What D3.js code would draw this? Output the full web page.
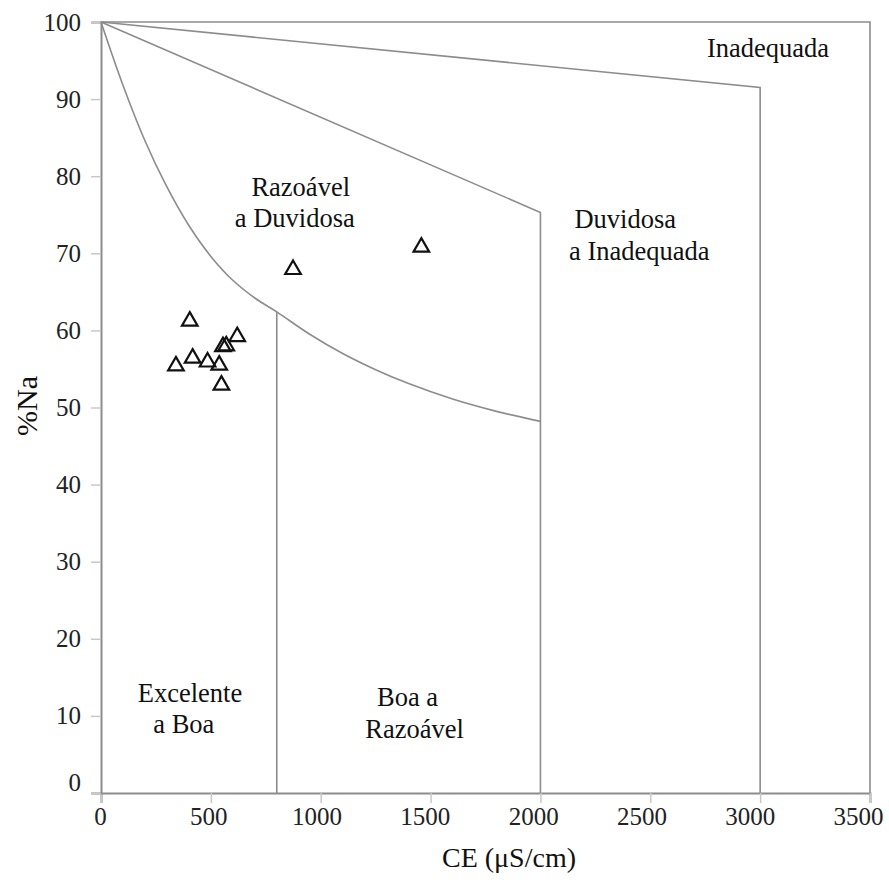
<!DOCTYPE html>
<html>
<head>
<meta charset="utf-8">
<script src="https://cdn.jsdelivr.net/npm/d3@7"></script>
<style>
  html, body { margin: 0; padding: 0; background: #fff; }
  svg { display: block; }
  text { font-family: "Liberation Serif", "Times New Roman", serif; }
</style>
</head>
<body>
<svg id="chart" width="889" height="882"></svg>
<script>
// ---- data ----
const xTicks = [0, 500, 1000, 1500, 2000, 2500, 3000, 3500];
const yTicks = [0, 10, 20, 30, 40, 50, 60, 70, 80, 90, 100];

// boundary: Inadequada (top line then vertical at 3000)
const limit1CE = [0, 3000, 3000];
const limit1Na = [100, 91.5, 0];
// boundary: Duvidosa a Inadequada (line then vertical at 2000)
const limit2CE = [0, 2000, 2000];
const limit2Na = [100, 75.3, 0];
// boundary curve: Razoável a Duvidosa / Excelente & Boa
const curveCE = [0, 100, 200, 300, 400, 500, 600, 700, 800, 950, 1100, 1250, 1400, 1600, 1800, 2000];
const curveNa = [100, 91.8, 84.6, 78.6, 73.6, 69.6, 66.5, 64.2, 62.4, 59.5, 57.0, 54.9, 53.1, 51.1, 49.5, 48.2];
// vertical at 800
const limit3CE = [800, 800];
const limit3Na = [62.4, 0];

// samples
const sampleCE = [404, 620, 570, 555, 417, 341, 485, 538, 548, 874, 1458];
const sampleNa = [61.2, 59.2, 58.0, 57.9, 56.4, 55.4, 55.9, 55.5, 52.9, 67.9, 70.8];

// zone labels
const zoneText = ["Inadequada", "Razoável", "a Duvidosa", "Duvidosa", "a Inadequada",
                  "Excelente", "a Boa", "Boa a", "Razoável"];
const zoneCE = [3036, 909, 882, 2386, 2450, 405, 377, 1395, 1427];
const zoneNa = [96.6, 78.6, 74.6, 74.5, 70.3, 13.0, 8.95, 12.45, 8.3];

// ---- layout ----
const W = 889, H = 882;
const margin = { left: 101, right: 19, top: 22, bottom: 89 };
const svg = d3.select("#chart");

const x = d3.scaleLinear().domain([0, 3500]).range([margin.left, W - margin.right]);
const y = d3.scaleLinear().domain([0, 100]).range([H - margin.bottom, margin.top]);

const lineGray = "#8c8c8c";

// frame (top and right)
svg.append("path")
  .attr("d", `M${x(0)},${y(100)}H${x(3500)}V${y(0)}`)
  .attr("fill", "none").attr("stroke", lineGray).attr("stroke-width", 1.6);

// axes
const xAxis = svg.append("g").attr("transform", `translate(0,${y(0)})`)
  .call(d3.axisBottom(x).tickValues(xTicks).tickSize(10).tickPadding(10).tickFormat(d3.format("d")));
const yAxis = svg.append("g").attr("transform", `translate(${x(0)},0)`)
  .call(d3.axisLeft(y).tickValues(yTicks).tickSize(10).tickPadding(10).tickFormat(d3.format("d")));

[xAxis, yAxis].forEach(g => {
  g.select(".domain").attr("stroke", lineGray).attr("stroke-width", 2);
  g.selectAll(".tick line").attr("stroke", "#c8c8c8").attr("stroke-width", 1.5);
  g.selectAll(".tick text").attr("font-family", "Liberation Serif, serif")
    .attr("font-size", 25).attr("fill", "#222");
});
yAxis.selectAll(".tick text").filter(d => d === 0).attr("dy", "-0.1em");
// labels in the reference drift slightly left of their ticks
xAxis.selectAll(".tick text").attr("dy", "0.48em")
  .attr("dx", d => -1 - d * 0.00314);

// boundary lines
const line = d3.line().x(d => x(d[0])).y(d => y(d[1]));
const zip = (a, b) => a.map((v, i) => [v, b[i]]);

svg.append("path").datum(zip(limit1CE, limit1Na)).attr("d", line)
  .attr("fill", "none").attr("stroke", lineGray).attr("stroke-width", 1.6);
svg.append("path").datum(zip(limit2CE, limit2Na)).attr("d", line)
  .attr("fill", "none").attr("stroke", lineGray).attr("stroke-width", 1.6);
svg.append("path").datum(zip(curveCE, curveNa))
  .attr("d", d3.line().x(d => x(d[0])).y(d => y(d[1])).curve(d3.curveCatmullRom.alpha(0.5)))
  .attr("fill", "none").attr("stroke", lineGray).attr("stroke-width", 1.6);
svg.append("path").datum(zip(limit3CE, limit3Na)).attr("d", line)
  .attr("fill", "none").attr("stroke", lineGray).attr("stroke-width", 1.6);

// zone labels
svg.append("g").selectAll("text").data(zoneText).join("text")
  .attr("x", (d, i) => x(zoneCE[i]))
  .attr("y", (d, i) => y(zoneNa[i]))
  .attr("text-anchor", "middle")
  .attr("dominant-baseline", "central")
  .attr("font-size", 26.5)
  .attr("fill", "#111")
  .text(d => d);

// samples
const tri = d3.symbol().type(d3.symbolTriangle).size(105);
svg.append("g").selectAll("path").data(sampleCE).join("path")
  .attr("transform", (d, i) => `translate(${x(d)},${y(sampleNa[i])})`)
  .attr("d", tri)
  .attr("fill", "none")
  .attr("stroke", "#111").attr("stroke-width", 2.2);

// axis titles
svg.append("text").attr("x", 509).attr("y", 857)
  .attr("text-anchor", "middle").attr("dominant-baseline", "central")
  .attr("font-size", 28).attr("fill", "#111")
  .text("CE (μS/cm)");
svg.append("text")
  .attr("transform", `translate(26,406) rotate(-90)`)
  .attr("text-anchor", "middle").attr("dominant-baseline", "central")
  .attr("font-size", 30).attr("fill", "#111")
  .text("%Na");
</script>
</body>
</html>
